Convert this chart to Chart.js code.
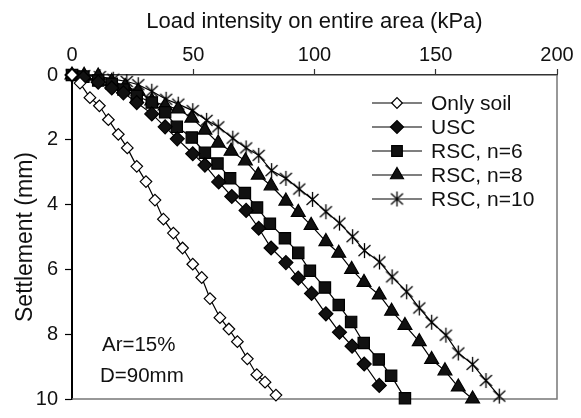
<!DOCTYPE html>
<html><head><meta charset="utf-8">
<script src="https://cdn.jsdelivr.net/npm/chart.js@4.4.0/dist/chart.umd.min.js"></script>
<style>html,body{margin:0;padding:0;background:#fff}#wrap{width:581px;height:418px}</style>
</head><body><div id="wrap"><canvas id="c" width="581" height="418"></canvas></div>
<script>
// ---- data (load in kPa, settlement in mm) ----
const seriesNames = ["Only soil", "USC", "RSC, n=6", "RSC, n=8", "RSC, n=10"];
const soilX = [0,3.3,7.4,11.3,15,19.1,22.8,26.7,30.5,34.2,37.7,41.8,45.6,49.8,53.5,56.9,61,64.7,68.2,72.3,76.2,79.6,84.1];
const soilY = [0,0.25,0.7,0.95,1.38,1.83,2.25,2.82,3.29,3.86,4.45,4.88,5.34,5.84,6.25,6.9,7.49,7.84,8.23,8.76,9.25,9.48,9.88];
const uscX = [0,4.7,10.8,16.4,21.2,26.7,32.9,38.4,43.4,49.8,54.8,60.5,65.9,71.8,77,82.1,88.2,93.3,98.8,104.7,110.3,115.5,120.5,126.7];
const uscY = [0,0.08,0.22,0.4,0.55,0.85,1.2,1.6,1.97,2.43,2.78,3.3,3.75,4.18,4.73,5.34,5.79,6.27,6.74,7.37,7.94,8.37,8.92,9.58];
const n6X = [0,4.7,10.8,16.4,21.2,26.7,32.9,38.4,43.2,49.4,54.8,60,65.2,71.3,76.3,81.6,87.8,93.3,98.1,104.3,110,115.1,120.3,126.5,131.6,137.3];
const n6Y = [0,0.05,0.17,0.27,0.45,0.65,0.85,1.15,1.6,1.93,2.4,2.73,3.19,3.64,4.09,4.59,5.04,5.49,6.04,6.56,7.1,7.62,8.27,8.78,9.28,9.98];
const n8X = [0,5,10.8,16.4,21.9,27.3,32.9,38.4,43.8,49.4,54.8,60.3,65.6,71.5,76.8,82.1,88.2,93.3,98.6,104.7,110,115.3,120.4,126.7,131.8,137.3,143.2,148.3,153.8,159.3,165.2];
const n8Y = [0,0.01,0.03,0.2,0.35,0.5,0.8,0.95,1.05,1.33,1.7,2.1,2.35,2.65,3.09,3.42,3.89,4.24,4.64,5.14,5.5,6.0,6.4,6.79,7.29,7.73,8.23,8.78,9.13,9.63,10.0];
const n10X = [0,5,11.5,17,22.6,27.3,32.9,38.8,43.8,49.8,55.5,60.3,66.3,71.8,77,82.3,88.2,93.7,99.2,104.7,110.3,115.7,120.6,126.8,132,138,143.2,148.3,154.2,159.3,165.2,170.7,176.2];
const n10Y = [0,0.02,0.05,0.13,0.2,0.3,0.5,0.75,0.9,1.1,1.4,1.6,1.95,2.25,2.48,2.95,3.19,3.52,3.84,4.22,4.57,4.99,5.42,5.77,6.23,6.69,7.19,7.63,8.03,8.58,8.93,9.43,9.91];
const xTicks = [0, 50, 100, 150, 200];
const yTicks = [0, 2, 4, 6, 8, 10];
const notes = ["Ar=15%", "D=90mm"];

const FONT = "'Liberation Sans', Arial, Helvetica, sans-serif";

function pts(xs, ys) { return xs.map((x, i) => ({x: x, y: ys[i]})); }

// asterisk marker (vertical + X)
const star = document.createElement('canvas');
star.width = 17; star.height = 17;
(function(){
  const g = star.getContext('2d');
  g.strokeStyle = '#000'; g.lineWidth = 1.3;
  g.beginPath();
  g.moveTo(8.5, 1); g.lineTo(8.5, 16);
  g.moveTo(2.5, 3); g.lineTo(14.5, 14);
  g.moveTo(14.5, 3); g.lineTo(2.5, 14);
  g.stroke();
})();

const styles = [
  {pointStyle: 'rectRot', radius: 5.8, bg: '#fff'},
  {pointStyle: 'rectRot', radius: 7, bg: '#111'},
  {pointStyle: 'rect', radius: 8, bg: '#111'},
  {pointStyle: 'triangle', radius: 8, bg: '#111'},
  {pointStyle: star, radius: 7, bg: '#000'}
];
const dataSets = [pts(soilX, soilY), pts(uscX, uscY), pts(n6X, n6Y), pts(n8X, n8Y), pts(n10X, n10Y)];

const datasets = dataSets.map((d, i) => ({
  label: seriesNames[i],
  data: d,
  showLine: true,
  tension: 0,
  borderColor: '#000',
  borderWidth: 1.2,
  pointStyle: styles[i].pointStyle,
  pointRadius: styles[i].radius,
  pointHoverRadius: styles[i].radius,
  pointBackgroundColor: styles[i].bg,
  pointBorderColor: '#000',
  pointBorderWidth: 1.2,
  clip: false
}));

const extras = {
  id: 'extras',
  beforeDatasetsDraw(chart) {
    const ctx = chart.ctx, a = chart.chartArea;
    ctx.save();
    ctx.strokeStyle = '#777'; ctx.lineWidth = 1.5;
    ctx.beginPath();
    ctx.moveTo(a.right, a.top); ctx.lineTo(a.right, a.bottom); ctx.lineTo(a.left, a.bottom);
    ctx.stroke();
    ctx.restore();
  },
  afterDraw(chart) {
    const ctx = chart.ctx;
    ctx.save();
    ctx.fillStyle = '#111';
    ctx.font = '20.5px ' + FONT;
    ctx.textBaseline = 'middle';
    ctx.textAlign = 'left';
    ctx.fillText(notes[0], 102, 345);
    ctx.fillText(notes[1], 100, 376);
    // legend
    const x0 = 372, x1 = 422, xm = 397;
    ctx.font = '21px ' + FONT;
    chart.data.datasets.forEach((ds, i) => {
      const y = 103 + 24 * i;
      ctx.strokeStyle = '#000'; ctx.lineWidth = 1.2;
      ctx.beginPath(); ctx.moveTo(x0, y); ctx.lineTo(x1, y); ctx.stroke();
      ctx.fillStyle = ds.pointBackgroundColor;
      Chart.helpers.drawPoint(ctx, {pointStyle: ds.pointStyle, radius: ds.pointRadius - 0.5, borderWidth: 1.2, rotation: 0}, xm, y);
      ctx.fillStyle = '#111';
      ctx.fillText(ds.label, 431, y + 1);
    });
    ctx.restore();
  }
};

new Chart(document.getElementById('c'), {
  type: 'scatter',
  data: {datasets},
  options: {
    responsive: false,
    animation: false,
    devicePixelRatio: 1,
    layout: {padding: {left: 0, right: 24, top: 0, bottom: 9}},
    plugins: {legend: {display: false}, tooltip: {enabled: false}},
    scales: {
      x: {
        type: 'linear', position: 'top', min: 0, max: 200,
        afterFit: s => { s.height = 75; },
        afterBuildTicks: s => { s.ticks = xTicks.map(v => ({value: v})); },
        ticks: {color: '#111', font: {family: FONT, size: 20}, padding: 2, maxRotation: 0},
        grid: {drawOnChartArea: false, drawTicks: true, tickLength: 6, tickColor: '#333', tickWidth: 1.2},
        border: {color: '#333', width: 1.5},
        title: {display: true, text: 'Load intensity on entire area (kPa)', color: '#111', font: {family: FONT, size: 22}, padding: {top: 9, bottom: 0}}
      },
      y: {
        type: 'linear', position: 'left', min: 0, max: 10, reverse: true,
        afterFit: s => { s.width = 72; },
        afterBuildTicks: s => { s.ticks = yTicks.map(v => ({value: v})); },
        ticks: {color: '#111', font: {family: FONT, size: 20}, padding: 7},
        grid: {drawOnChartArea: false, drawTicks: true, tickLength: 7, tickColor: '#000', tickWidth: 1.2},
        border: {color: '#000', width: 2},
        title: {display: true, text: 'Settlement (mm)', color: '#111', font: {family: FONT, size: 23}, padding: {top: 12, bottom: 0}}
      }
    }
  },
  plugins: [extras]
});
</script>
</body></html>
